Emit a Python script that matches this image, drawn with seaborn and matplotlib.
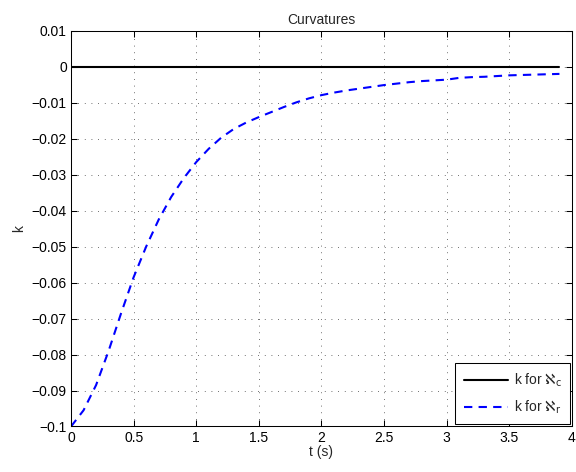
import matplotlib
matplotlib.use("Agg")
import matplotlib.pyplot as plt
import seaborn as sns
import pandas as pd
import numpy as np

# Data
t = [0.0, 0.1, 0.2, 0.3, 0.4, 0.5, 0.6, 0.7, 0.8, 0.9,
     1.0, 1.1, 1.2, 1.3, 1.4, 1.5, 1.6, 1.7, 1.8, 1.9,
     2.0, 2.1, 2.2, 2.3, 2.4, 2.5, 2.6, 2.7, 2.8, 2.9,
     3.0, 3.1, 3.2, 3.3, 3.4, 3.5, 3.6, 3.7, 3.8, 3.9]
k_c = [0.0] * len(t)
k_r = [-0.1, -0.0955, -0.0885, -0.079, -0.0685, -0.0585, -0.0500, -0.0425, -0.0362, -0.0310,
       -0.0265, -0.0228, -0.0197, -0.0173, -0.0155, -0.0140, -0.0126, -0.0112, -0.0099, -0.0088,
       -0.0079, -0.0072, -0.0066, -0.0061, -0.0056, -0.0051, -0.0047, -0.0043, -0.0040, -0.0038,
       -0.0036, -0.0031, -0.0029, -0.0028, -0.0026, -0.0024, -0.0023, -0.0022, -0.0021, -0.0020]
x_ticks = [0, 0.5, 1, 1.5, 2, 2.5, 3, 3.5, 4]
x_ticklabels = ["0", "0.5", "1", "1.5", "2", "2.5", "3", "3.5", "4"]
y_ticks = [0.01, 0, -0.01, -0.02, -0.03, -0.04, -0.05, -0.06, -0.07, -0.08, -0.09, -0.1]
y_ticklabels = ["0.01", "0", "\u22120.01", "\u22120.02", "\u22120.03", "\u22120.04", "\u22120.05",
                "\u22120.06", "\u22120.07", "\u22120.08", "\u22120.09", "\u22120.1"]
labels = [r"k for $\aleph_\mathrm{c}$", r"k for $\aleph_\mathrm{r}$"]

sns.set_style("white")
plt.rcParams["font.family"] = ["Liberation Sans", "DejaVu Sans"]
plt.rcParams["mathtext.fontset"] = "dejavusans"

fig = plt.figure(figsize=(5.76, 4.72), dpi=100)
ax = fig.add_axes([0.1233, 0.0964, 0.8697, 0.8385])

df = pd.DataFrame({"t": t, "kc": k_c, "kr": k_r})
sns.lineplot(data=df, x="t", y="kc", ax=ax, color="black", linewidth=1.5, label=labels[0])
sns.lineplot(data=df, x="t", y="kr", ax=ax, color="#0000ff", linewidth=1.5, label=labels[1])
ax.lines[1].set_dashes((4, 3))

ax.set_xlim(0, 4)
ax.set_ylim(-0.1, 0.01)
ax.set_xticks(x_ticks)
ax.set_xticklabels(x_ticklabels, fontsize=10)
ax.set_yticks(y_ticks)
ax.set_yticklabels(y_ticklabels, fontsize=10)
ax.tick_params(direction="in", length=4, width=0.75, top=True, right=True,
               bottom=True, left=True, pad=3, colors="black")
ax.grid(True, linestyle=(0, (1, 7)), color="#404040", linewidth=0.6)
for s in ax.spines.values():
    s.set_visible(True)
    s.set_color("black")
    s.set_linewidth(0.75)

ax.set_xlabel("t (s)", fontsize=10, labelpad=0)
ax.set_ylabel("k", fontsize=10, labelpad=4)
ax.set_title("Curvatures", fontsize=10, pad=5)

leg = ax.legend(loc="lower right", fontsize=10, frameon=True, fancybox=False,
                handlelength=3.2, borderaxespad=0.15, edgecolor="black",
                framealpha=1, borderpad=0.6, labelspacing=0.7, handletextpad=0.4)
leg.get_frame().set_linewidth(0.75)

fig.savefig("out.png", dpi=100)
